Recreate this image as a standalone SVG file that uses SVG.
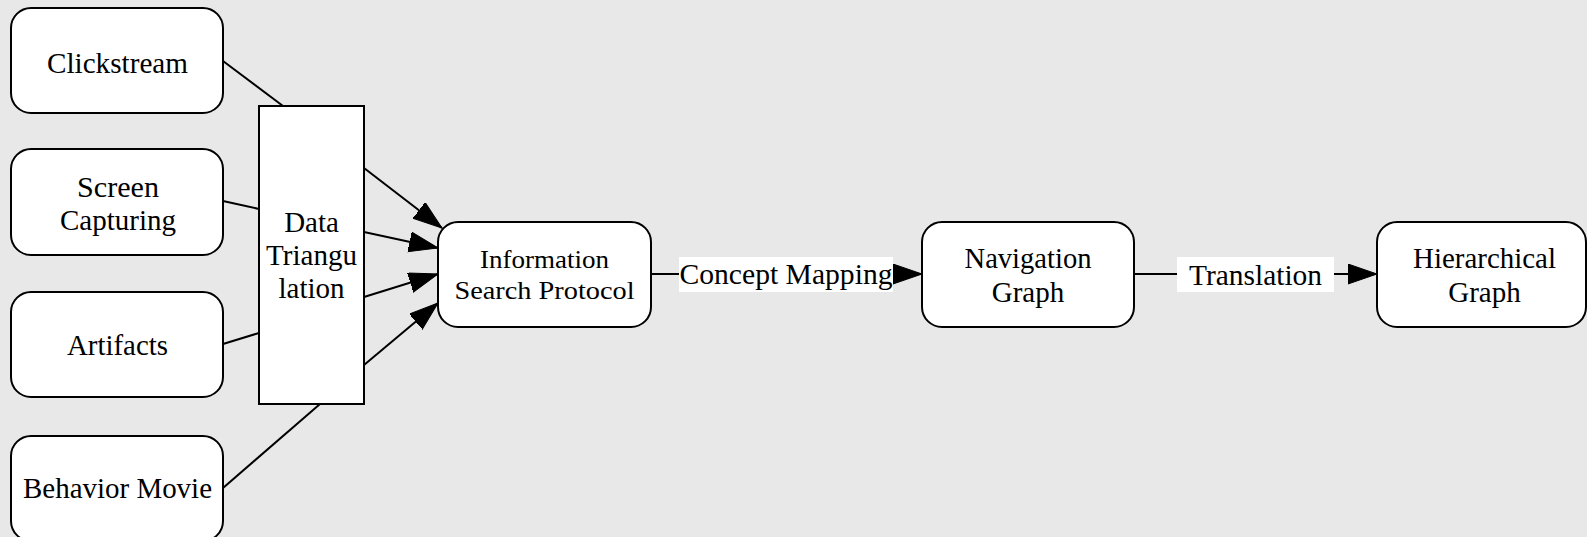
<svg xmlns="http://www.w3.org/2000/svg" width="1587" height="537" viewBox="0 0 1587 537">
<style>
.node{fill:#ffffff;stroke:#000000;stroke-width:2}
.edge{stroke:#000000;stroke-width:2;fill:none}
.lbl{fill:#ffffff;stroke:none}
.t{font-family:'Liberation Serif','Times New Roman',serif;font-size:29px;fill:#000000;text-anchor:middle}
.sm{font-size:26px}
.big{font-size:30px}
</style>
<defs>
<marker id="ah" markerUnits="userSpaceOnUse" markerWidth="32" markerHeight="24" refX="29" refY="10" orient="auto">
<path d="M0,0 L29,10 L0,20 Z" fill="#000000" stroke="#000000" stroke-width="1"/>
</marker>
</defs>
<rect x="0" y="0" width="1587" height="537" fill="#e8e8e8"/>
<g id="connectors">
<line class="edge" x1="223" y1="61" x2="283" y2="106"/>
<line class="edge" x1="223" y1="201" x2="259" y2="209"/>
<line class="edge" x1="223" y1="344" x2="259" y2="333"/>
<line class="edge" x1="223" y1="488" x2="320" y2="404"/>
<line class="edge" x1="364" y1="168" x2="442" y2="228" marker-end="url(#ah)"/>
<line class="edge" x1="364" y1="232" x2="438" y2="248" marker-end="url(#ah)"/>
<line class="edge" x1="364" y1="297" x2="438" y2="274" marker-end="url(#ah)"/>
<line class="edge" x1="364" y1="365" x2="438" y2="303" marker-end="url(#ah)"/>
<line class="edge" x1="651" y1="274" x2="922" y2="274" marker-end="url(#ah)"/>
<rect class="lbl" x="679" y="257" width="214" height="35"/>
<text class="t big" x="786" y="284" textLength="213" lengthAdjust="spacingAndGlyphs">Concept Mapping</text>
<line class="edge" x1="1134" y1="274" x2="1377" y2="274" marker-end="url(#ah)"/>
<rect class="lbl" x="1177" y="257" width="157" height="35"/>
<text class="t big" x="1255.5" y="285" textLength="133" lengthAdjust="spacingAndGlyphs">Translation</text>
</g>
<g id="clickstream">
<rect class="node" x="11" y="8" width="212" height="105" rx="20" ry="20"/>
<text class="t" x="117.5" y="73" textLength="141" lengthAdjust="spacingAndGlyphs">Clickstream</text>
</g>
<g id="screen-capturing">
<rect class="node" x="11" y="149" width="212" height="106" rx="20" ry="20"/>
<text class="t" x="118" y="197" textLength="82" lengthAdjust="spacingAndGlyphs">Screen</text>
<text class="t" x="118" y="230" textLength="116" lengthAdjust="spacingAndGlyphs">Capturing</text>
</g>
<g id="artifacts">
<rect class="node" x="11" y="292" width="212" height="105" rx="20" ry="20"/>
<text class="t" x="117.5" y="355" textLength="101" lengthAdjust="spacingAndGlyphs">Artifacts</text>
</g>
<g id="behavior-movie">
<rect class="node" x="11" y="436" width="212" height="105" rx="20" ry="20"/>
<text class="t" x="117.5" y="498" textLength="189" lengthAdjust="spacingAndGlyphs">Behavior Movie</text>
</g>
<g id="data-triangulation">
<rect class="node" x="259" y="106" width="105" height="298"/>
<text class="t" x="311.5" y="232">Data</text>
<text class="t" x="311.5" y="265" textLength="91" lengthAdjust="spacingAndGlyphs">Triangu</text>
<text class="t" x="311.5" y="298">lation</text>
</g>
<g id="information-search-protocol">
<rect class="node" x="438" y="222" width="213" height="105" rx="20" ry="20"/>
<text class="t sm" x="544.5" y="268" textLength="129" lengthAdjust="spacingAndGlyphs">Information</text>
<text class="t sm" x="544.5" y="299" textLength="180" lengthAdjust="spacingAndGlyphs">Search Protocol</text>
</g>
<g id="navigation-graph">
<rect class="node" x="922" y="222" width="212" height="105" rx="20" ry="20"/>
<text class="t" x="1028" y="268" textLength="127" lengthAdjust="spacingAndGlyphs">Navigation</text>
<text class="t" x="1028" y="302">Graph</text>
</g>
<g id="hierarchical-graph">
<rect class="node" x="1377" y="222" width="209" height="105" rx="20" ry="20"/>
<text class="t" x="1484.5" y="268" textLength="143" lengthAdjust="spacingAndGlyphs">Hierarchical</text>
<text class="t" x="1484.5" y="302">Graph</text>
</g>
</svg>
